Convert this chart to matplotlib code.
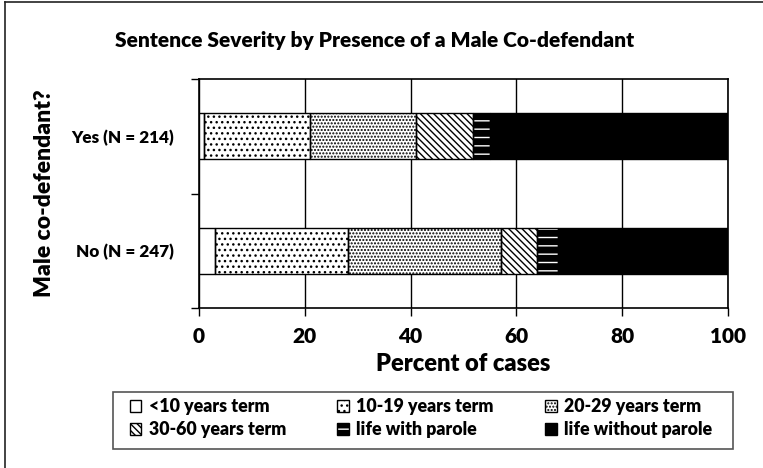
import numpy as np
import matplotlib
matplotlib.use("Agg")
import matplotlib.pyplot as plt
from matplotlib.patches import Patch, Rectangle
from matplotlib.legend_handler import HandlerTuple
from matplotlib.lines import Line2D

plt.rcParams['font.family'] = ['Lato', 'DejaVu Sans']
plt.rcParams['font.weight'] = 'heavy'
plt.rcParams['hatch.linewidth'] = 1.0

# data (percent of cases)
groups = ['No (N = 247)', 'Yes (N = 214)']
categories = ['<10 years term', '10-19 years term', '20-29 years term',
              '30-60 years term', 'life with parole', 'life without parole']
pct_no = [3.0, 25.1, 28.9, 6.9, 3.9, 32.2]
pct_yes = [0.9, 20.1, 20.1, 10.7, 3.3, 44.9]
xticks = [0, 20, 40, 60, 80, 100]

# (facecolor, hatch, hatch colour) per category
styles = [('white', None, 'black'),
          ('white', '...', 'black'),
          ('white', '.....', 'black'),
          ('white', '\\\\\\\\\\', 'black'),
          ('black', '--', 'white'),
          ('black', None, 'black')]

W, H = 763, 468
fig = plt.figure(figsize=(W / 100, H / 100), dpi=100)
ax = fig.add_axes([199 / W, 1 - 308 / H, 529 / W, 229 / H])

data = np.array([pct_no, pct_yes])
ypos = np.arange(len(groups))
left = np.zeros(len(groups))
handles = []
for i, cat in enumerate(categories):
    fc, hatch, hc = styles[i]
    vals = data[:, i]
    ax.barh(ypos, vals, left=left, height=0.4, color=fc, edgecolor=hc,
            hatch=hatch, linewidth=0, zorder=2)
    ax.barh(ypos, vals, left=left, height=0.4, color='none',
            edgecolor='black', linewidth=1.0, zorder=3)
    left += vals
    h1 = Patch(facecolor=fc, edgecolor=hc, hatch=hatch, linewidth=0)
    h2 = Patch(facecolor='none', edgecolor='black', linewidth=1.0)
    handles.append((h1, h2))

ax.set_xlim(0, 100)
ax.set_ylim(-0.5, 1.5)
ax.set_xticks(xticks)
ax.set_yticks(ypos)
ax.set_yticklabels(groups)
ax.set_yticks([-0.5, 0.5, 1.5], minor=True)
ax.tick_params(axis='y', which='major', length=0, pad=18, labelsize=12.3)
ax.tick_params(axis='y', which='minor', length=6, width=1, direction='out')
ax.tick_params(axis='x', length=6, width=1, direction='out', pad=8, labelsize=15)
ax.grid(axis='x', color='black', linewidth=1, zorder=0)
ax.set_axisbelow(True)
for s in ax.spines.values():
    s.set_linewidth(1.2)

ax.set_xlabel('Percent of cases', fontsize=17, fontweight='heavy', labelpad=5)
ax.set_ylabel('Male co-defendant?', fontsize=16.5, fontweight='heavy', labelpad=12)

fig.text(375 / W, 1 - 40 / H,
         'Sentence Severity by Presence of a Male Co-defendant',
         ha='center', va='center', fontsize=15, fontweight='heavy')

# legend laid out row-wise like the original, frame drawn separately
order = [0, 3, 1, 4, 2, 5]
leg = fig.legend([handles[k] for k in order], [categories[k] for k in order],
                 handler_map={tuple: HandlerTuple(ndivide=1, pad=0)},
                 loc='center left', bbox_to_anchor=(121 / W, 1 - 418 / H),
                 ncol=3, fontsize=12.8, frameon=False, borderpad=0,
                 handlelength=0.65, handleheight=0.65, handletextpad=0.4,
                 columnspacing=2.9, labelspacing=0.34)
fig.add_artist(Rectangle((113 / W, 1 - 449 / H), 620 / W, 57 / H,
                         transform=fig.transFigure, fill=False,
                         edgecolor='#555555', linewidth=1.2))

# outer chart border (left and top edges visible)
fig.add_artist(Line2D([4.5 / W, 4.5 / W], [0, 1 - 1.5 / H],
                      color='#222222', linewidth=1.2))
fig.add_artist(Line2D([4.5 / W, 1], [1 - 1.5 / H, 1 - 1.5 / H],
                      color='#222222', linewidth=1.2))

fig.savefig('out.png', dpi=100)
